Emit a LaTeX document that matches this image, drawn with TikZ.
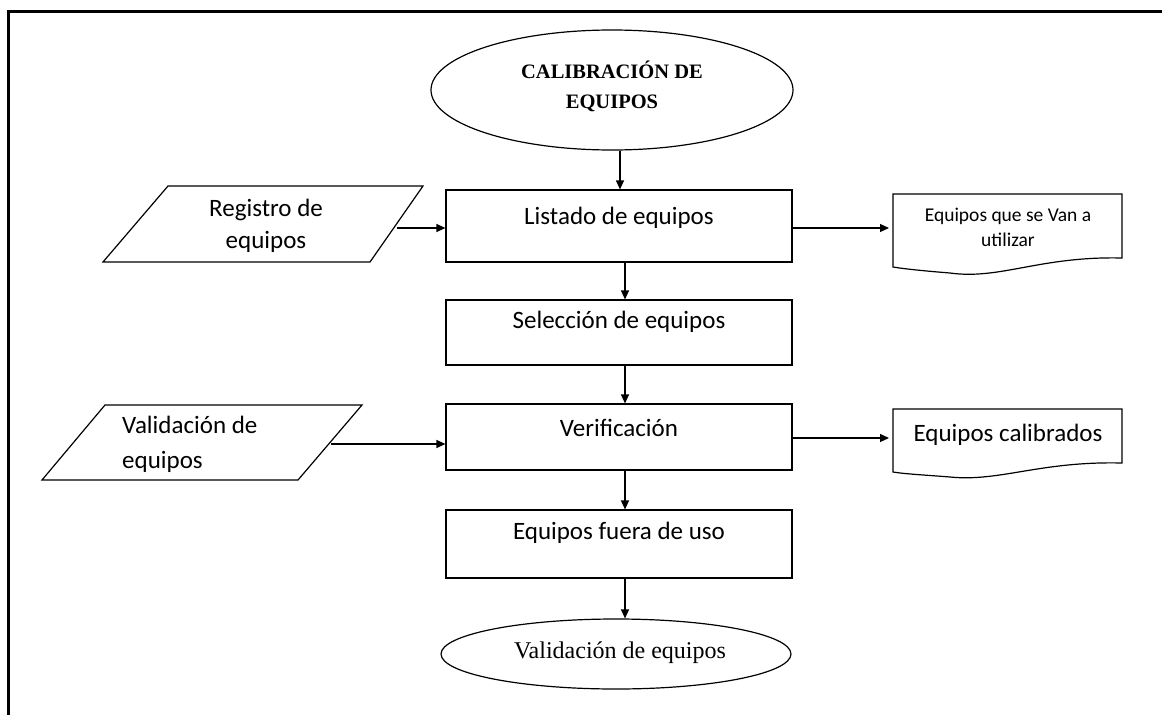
\documentclass[tikz,border=0pt]{standalone}
\usepackage{fontspec}
\setmainfont{Carlito}
\newfontfamily\timesf{Liberation Serif}
\usetikzlibrary{shapes.geometric,arrows.meta}
\begin{document}
\begin{tikzpicture}[x=1pt,y=-1pt,
  shp/.style={draw,line width=1.2pt},
  procbox/.style={shp,rectangle,minimum width=346pt,minimum height=#1,inner sep=0pt},
  term/.style={shp,ellipse,inner sep=0pt},
  lbl/.style={inner sep=0pt,align=center,font=\fontsize{25}{33}\selectfont},
  arr/.style={line width=1.2pt,-{Triangle[width=8pt,length=9pt]}}]
\useasboundingbox (0,0) rectangle (1162,715);
% frame
\draw[line width=3pt] (8,715) -- (8,11) -- (1162,11);
% start
\node[term,minimum width=362pt,minimum height=120pt] (start) at (612,90) {};
\node[inner sep=0pt,align=center,font=\timesf\bfseries\fontsize{20.5}{30}\selectfont] (startT) at (612,86) {CALIBRACIÓN DE\\EQUIPOS};
% process boxes
\node[procbox=72pt] (listado) at (619,226) {};
\node[lbl] (listadoT) at (619,218) {Listado de equipos};
\node[procbox=65pt] (selec) at (619,332.5) {};
\node[lbl] (selecT) at (619,322) {Selección de equipos};
\node[procbox=66pt] (verif) at (619,437) {};
\node[lbl] (verifT) at (619,428) {Verificación};
\node[procbox=68pt] (fuera) at (619,544) {};
\node[lbl] (fueraT) at (619,533) {Equipos fuera de uso};
% end
\node[term,minimum width=350pt,minimum height=70pt] (fin) at (616,654) {};
\node[inner sep=0pt,font=\timesf\fontsize{24}{27}\selectfont] (finT) at (620,653) {Validación de equipos};
% input parallelograms
\draw[shp] (168,186) -- (423,186) -- (370,262) -- (103,262) -- cycle;
\node[lbl,font=\fontsize{25}{32}\selectfont] (regT) at (266,226) {Registro de\\equipos};
\coordinate (regOut) at (397,228);
\draw[shp] (105,405) -- (362,405) -- (298,480) -- (42,480) -- cycle;
\node[lbl,align=left,anchor=west,font=\fontsize{25}{35}\selectfont] (valT) at (122,444) {Validación de\\equipos};
\coordinate (valOut) at (331,444);
% documents
\draw[shp] (893,194) -- (1122,194) -- (1122,258)
  .. controls (1040,256) and (1000,280) .. (950,273)
  .. controls (925,271) and (905,269) .. (893,267) -- cycle;
\node[inner sep=0pt,align=center,font=\fontsize{19.5}{25}\selectfont] (doc1T) at (1008,227) {Equipos que se Van a\\utilizar};
\draw[shp] (893,409) -- (1122,409) -- (1122,463)
  .. controls (1040,461) and (1000,482) .. (950,477)
  .. controls (925,475) and (905,474) .. (893,472) -- cycle;
\node[lbl] (doc2T) at (1008,435) {Equipos calibrados};
\coordinate (doc1In) at (889,228);
\coordinate (doc2In) at (889,438);
% connectors
\coordinate (c0) at (620,0);
\coordinate (c1) at (625,0);
\draw[arr] (start.south -| c0) -- (listado.north -| c0);
\draw[arr] (regOut) -- (regOut -| listado.west);
\draw[arr] (listado.east |- doc1In) -- (doc1In);
\draw[arr] (listado.south -| c1) -- (selec.north -| c1);
\draw[arr] (selec.south -| c1) -- (verif.north -| c1);
\draw[arr] (valOut) -- (valOut -| verif.west);
\draw[arr] (verif.east |- doc2In) -- (doc2In);
\draw[arr] (verif.south -| c1) -- (fuera.north -| c1);
\draw[arr] (fuera.south -| c1) -- (fin.north -| c1);
\end{tikzpicture}
\end{document}
